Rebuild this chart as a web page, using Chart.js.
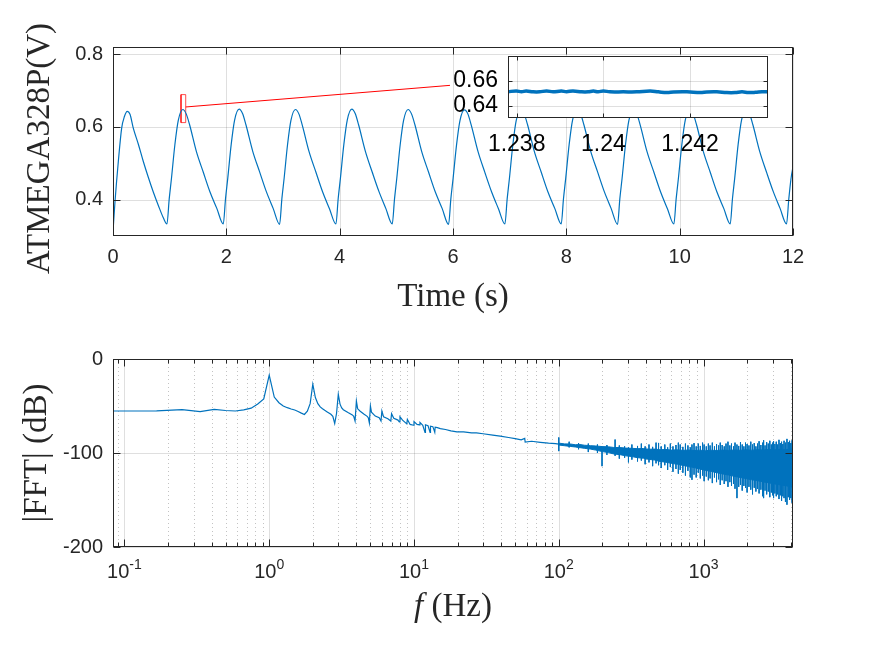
<!DOCTYPE html>
<html>
<head>
<meta charset="utf-8">
<script src="https://cdn.jsdelivr.net/npm/chart.js@4.4.1/dist/chart.umd.min.js"></script>
<style>
  html, body { margin: 0; padding: 0; background: #fff; }
  #wrap { position: relative; width: 875px; height: 657px; overflow: hidden; }
  canvas { position: absolute; }
</style>
</head>
<body>
<div id="wrap">
  <canvas id="top" width="875" height="330" style="left:0;top:0"></canvas>
  <canvas id="inset" width="340" height="130" style="left:440px;top:32px"></canvas>
  <canvas id="fft" width="875" height="327" style="left:0;top:330px"></canvas>
</div>
<script>
const BLUE = '#0072BD'
const INK = '#262626'

// top panel: measured pin voltage
const timeS = [
  0, 0.035, 0.094, 0.153, 0.200, 0.252, 0.300, 0.358, 0.450, 0.535, 0.620, 0.711, 0.800, 0.888,
  0.952, 0.992, 1.032, 1.092, 1.152, 1.232, 1.292, 1.352, 1.472, 1.592, 1.712, 1.832,
  1.946, 1.986, 2.026, 2.086, 2.146, 2.226, 2.286, 2.346, 2.466, 2.586, 2.706, 2.826,
  2.940, 2.980, 3.020, 3.080, 3.140, 3.220, 3.280, 3.340, 3.460, 3.580, 3.700, 3.820,
  3.934, 3.974, 4.014, 4.074, 4.134, 4.214, 4.274, 4.334, 4.454, 4.574, 4.694, 4.814,
  4.928, 4.968, 5.008, 5.068, 5.128, 5.208, 5.268, 5.328, 5.448, 5.568, 5.688, 5.808,
  5.922, 5.962, 6.002, 6.062, 6.122, 6.202, 6.262, 6.322, 6.442, 6.562, 6.682, 6.802,
  6.916, 6.956, 6.996, 7.056, 7.116, 7.196, 7.256, 7.316, 7.436, 7.556, 7.676, 7.796,
  7.910, 7.950, 7.990, 8.050, 8.110, 8.190, 8.250, 8.310, 8.430, 8.550, 8.670, 8.790,
  8.904, 8.944, 8.984, 9.044, 9.104, 9.184, 9.244, 9.304, 9.424, 9.544, 9.664, 9.784,
  9.898, 9.938, 9.978, 10.038, 10.098, 10.178, 10.238, 10.298, 10.418, 10.538, 10.658, 10.778,
  10.892, 10.932, 10.972, 11.032, 11.092, 11.172, 11.232, 11.292, 11.412, 11.532, 11.652, 11.772,
  11.886, 11.926, 11.966, 12.000
]
const voltV = [
  0.312, 0.394, 0.505, 0.597, 0.628, 0.643, 0.635, 0.597, 0.551, 0.505, 0.463, 0.421, 0.384, 0.350,
  0.333, 0.402, 0.459, 0.551, 0.618, 0.648, 0.636, 0.606, 0.532, 0.476, 0.421, 0.376,
  0.333, 0.403, 0.460, 0.552, 0.619, 0.649, 0.637, 0.606, 0.533, 0.477, 0.422, 0.376,
  0.332, 0.402, 0.459, 0.551, 0.618, 0.648, 0.636, 0.605, 0.532, 0.476, 0.421, 0.375,
  0.333, 0.403, 0.460, 0.552, 0.619, 0.649, 0.637, 0.606, 0.533, 0.476, 0.422, 0.376,
  0.333, 0.402, 0.459, 0.551, 0.618, 0.648, 0.636, 0.606, 0.532, 0.476, 0.421, 0.376,
  0.332, 0.402, 0.459, 0.550, 0.617, 0.647, 0.636, 0.605, 0.532, 0.475, 0.421, 0.375,
  0.333, 0.402, 0.459, 0.551, 0.618, 0.648, 0.636, 0.606, 0.532, 0.476, 0.421, 0.376,
  0.333, 0.403, 0.460, 0.552, 0.619, 0.649, 0.637, 0.606, 0.533, 0.477, 0.422, 0.376,
  0.332, 0.402, 0.459, 0.551, 0.618, 0.648, 0.636, 0.605, 0.532, 0.476, 0.421, 0.375,
  0.333, 0.402, 0.459, 0.551, 0.618, 0.648, 0.636, 0.606, 0.532, 0.476, 0.421, 0.376,
  0.333, 0.403, 0.460, 0.552, 0.619, 0.649, 0.637, 0.606, 0.533, 0.476, 0.422, 0.376,
  0.333, 0.402, 0.459, 0.490
]
const timeTicks = [0, 2, 4, 6, 8, 10, 12]
const timeLabels = ['0', '2', '4', '6', '8', '10', '12']
const voltTicks = [0.4, 0.6, 0.8]
const voltLabels = ['0.4', '0.6', '0.8']

// zoom marker and leader line
const zoomBoxT = [1.200, 1.283, 1.283, 1.200, 1.200]
const zoomBoxV = [0.612, 0.612, 0.689, 0.689, 0.612]
const leaderT = [1.283, 5.947]
const leaderV = [0.655, 0.7145]

// inset: close-up near the second peak
const insetT = [1.2378, 1.23799, 1.23811, 1.23822, 1.23838, 1.23853, 1.23869, 1.23884, 1.23903, 1.23915,
  1.2393, 1.2395, 1.23965, 1.23977, 1.23988, 1.24, 1.24015, 1.24046, 1.24077, 1.24108, 1.24127, 1.24147,
  1.24162, 1.24193, 1.24224, 1.24239, 1.24262, 1.24285, 1.24304, 1.2432, 1.24335, 1.24351, 1.24366, 1.2438]
const insetV = [0.6512, 0.6518, 0.6512, 0.6517, 0.6511, 0.6511, 0.6518, 0.6511, 0.6518, 0.6512,
  0.6518, 0.6511, 0.6511, 0.6517, 0.6511, 0.6518, 0.6511, 0.6511, 0.6511, 0.6518, 0.6511, 0.6505,
  0.6510, 0.6511, 0.6505, 0.6510, 0.6511, 0.6505, 0.6505, 0.6511, 0.6505, 0.6507, 0.6512, 0.6512]
const insetTimeTicks = [1.238, 1.24, 1.242]
const insetTimeLabels = ['1.238', '1.24', '1.242']
const insetVoltTicks = [0.64, 0.66]
const insetVoltLabels = ['0.64', '0.66']

// bottom panel: spectrum, low part as a single trace
const fftHz = [0.0833, 0.1667, 0.25, 0.3333, 0.4167, 0.5, 0.5833, 0.6667, 0.75, 0.8333, 0.9167,
  1.0, 1.0833, 1.1667, 1.25, 1.3333, 1.4167, 1.5, 1.5833, 1.6667, 1.75, 1.8333, 1.9167,
  2.0, 2.0833, 2.1667, 2.25, 2.3333, 2.4167, 2.5, 2.5833, 2.6667, 2.75, 2.8333, 2.9167,
  3.0, 3.0833, 3.1667, 3.25, 3.5, 3.75, 3.8333, 3.9167,
  4.0, 4.0833, 4.25, 4.5, 4.75, 4.8333, 4.9167,
  5.0, 5.0833, 5.4, 5.75, 5.9167, 6.0, 6.1667, 6.6, 6.9167, 7.0, 7.25, 7.75, 7.9167,
  8.0, 8.3333, 8.9167, 9.0, 9.4, 9.9167, 10.0, 10.5, 10.9167, 11.0, 11.5, 11.9167,
  12.0, 12.5, 12.9167, 13.0, 13.5, 13.9167, 14.0, 14.5, 15.2, 16.5, 18, 19.8, 22, 25, 27,
  30, 35, 39.4, 45, 50, 55, 58.2, 58.6, 65, 74.5, 85, 95, 100]
const fftDb = [-55.3, -55.2, -53.8, -56.0, -53.6, -54.8, -55.3, -54.2, -52.3, -47.8, -42.5,
  -17.1, -40.5, -46.5, -50.0, -51.8, -53.2, -54.2, -55.8, -57.6, -59.0, -55.5, -47.5,
  -26.8, -41.0, -47.5, -51.0, -53.0, -54.6, -56.0, -57.4, -58.8, -61.0, -68.6, -58.0,
  -37.5, -48.0, -52.0, -54.0, -57.0, -59.5, -61.0, -66.0,
  -44.6, -53.0, -55.5, -58.5, -61.0, -62.5, -68.0,
  -50.0, -56.5, -60.7, -62.5, -66.0, -55.3, -61.5, -63.6, -66.0, -58.2, -63.0, -65.0, -67.0,
  -61.4, -65.0, -69.0, -64.3, -69.6, -70.5, -66.5, -69.5, -70.0, -67.5, -70.5, -78.0,
  -70.0, -71.0, -78.0, -71.5, -72.0, -78.0, -72.5, -73.0, -74.0, -75.0, -76.5, -77.5, -77.5, -78.5, -78.6,
  -79.5, -81.0, -82.1, -83.5, -84.8, -86.0, -84.5, -88.5, -87.5, -88.6, -89.5, -90.0, -90.5]

// high part: solid body of the noise (upper / lower edge)
const bandHz = [100, 110, 120, 130, 140, 150, 165, 180, 200, 220, 240, 265, 290, 320, 350, 385, 420, 460,
  500, 550, 600, 660, 720, 790, 860, 940, 1030, 1130, 1240, 1360, 1490, 1630, 1790, 1960, 2150, 2360,
  2590, 2840, 3110, 3410, 3740, 4150]
const bandHi = [-89.5, -90.3, -90.4, -91.2, -91, -91.7, -92.2, -92.5, -93.2, -93.4, -94.1, -94.2, -94.8,
  -95, -95.4, -95.2, -96, -95.8, -96.5, -96.3, -96.9, -96.6, -97.2, -96.8, -97.4, -97, -97.5, -97.1,
  -97.3, -96.9, -97.2, -96.8, -97.1, -96.6, -97, -96.5, -96.8, -96.2, -96.6, -96, -96.3, -95.5]
const bandLo = [-91.5, -92.3, -93, -93.6, -94.3, -95, -95.8, -96.9, -98.5, -99.6, -101, -101.8, -103,
  -103.8, -105, -105.6, -106.8, -107.5, -109, -109.8, -111, -112, -113.2, -114.4, -115.5, -117, -118.5,
  -119.6, -121, -122.3, -123.5, -124.8, -126, -127.2, -128.5, -129.5, -130.8, -131.8, -133, -134,
  -135, -136.5]

// single bins sticking out of the body
const spikeHz = [100, 118, 137, 160, 185, 199, 215, 245, 262, 285, 303, 320, 350, 372, 395, 420, 445,
  470, 489, 510, 540, 565, 590, 615, 645, 670, 690, 720, 750, 780, 810, 832, 860, 890, 920, 950, 985,
  1010, 1045, 1080, 1110, 1150, 1190, 1230, 1270, 1305, 1345, 1390, 1430, 1475, 1520, 1560, 1610,
  1650, 1702, 1750, 1800, 1850, 1900, 1950, 2000, 2060, 2120, 2180, 2240, 2300, 2360, 2420, 2490,
  2560, 2600, 2660, 2730, 2800, 2870, 2940, 3000, 3047, 3110, 3180, 3250, 3320, 3390, 3460, 3530,
  3600, 3680, 3770, 3850, 3930, 4010, 4090, 4140]
const spikeHi = [-83.5, -88, -89.5, -90, -91, -93, -91.5, -85.7, -92, -93, -94, -91, -92.5, -90, -93,
  -91, -93.5, -89, -89.3, -93, -91, -94, -90, -93, -91.5, -89, -91, -93.5, -90, -92, -94, -91, -89.5,
  -93, -90, -92.5, -89, -91, -93, -90, -92, -89, -93, -90.5, -92, -89, -91.5, -93, -90, -88, -92,
  -90, -93, -89, -91, -92.5, -88.5, -91, -93, -89, -90.5, -92, -88, -91, -89.5, -93, -90, -87.5,
  -91.5, -89, -86.5, -92, -88.5, -90, -87, -91, -89, -87.5, -90.5, -88, -91, -86, -89.5, -88,
  -90.5, -87, -89, -85, -88.5, -87, -89.5, -86.5, -88]
const spikeLo = [-98, -94, -96, -99, -100, -114, -102, -103, -106, -105, -110, -107, -109, -108, -112,
  -110, -114, -111, -113, -116, -113, -118, -115, -120, -117, -122, -118, -121, -124, -119, -126,
  -128.5, -123, -126, -121, -127, -124, -130, -125, -129, -127, -132, -126, -131, -128, -134, -129,
  -133, -130, -136, -131, -135, -133, -138, -148, -136, -134, -140, -135, -137, -142, -136, -139,
  -144, -137, -141, -138, -143, -139, -146, -148, -140, -144, -141, -147, -142, -145, -148, -143,
  -146, -144, -149, -145, -151, -146, -148, -152, -155, -147, -150, -148, -153, -146]

const dbTicks = [-200, -100, 0]
const dbLabels = ['-200', '-100', '0']
const hzDecades = [0.1, 1, 10, 100, 1000]
const hzExponents = ['-1', '0', '1', '2', '3']
const HZ_MIN = 1 / 12
const HZ_MAX = 4150

const hzMinor = []
;[0.01, 0.1, 1, 10, 100, 1000].forEach(d => {
  for (let m = 2; m <= 9; m++) {
    const v = m * d
    if (v > HZ_MIN && v < HZ_MAX) hzMinor.push(v)
  }
})

const xy = (xs, ys) => xs.map((x, i) => ({x, y: ys[i]}))
// vertical strokes, broken apart by null points
const strokes = (xs, hi, lo) => xs.flatMap((x, i) => [{x, y: hi[i]}, {x, y: lo[i]}, {x, y: null}])

const drawParts = (ctx, parts, cx, cy, rotate) => {
  ctx.save()
  ctx.translate(cx, cy)
  if (rotate) ctx.rotate(-Math.PI / 2)
  let total = 0
  parts.forEach(p => { ctx.font = p.font; total += ctx.measureText(p.t).width })
  let x = -total / 2
  ctx.textBaseline = 'middle'
  ctx.textAlign = 'left'
  ctx.fillStyle = INK
  parts.forEach(p => { ctx.font = p.font; ctx.fillText(p.t, x, 0); x += ctx.measureText(p.t).width })
  ctx.restore()
}

// MATLAB-like box: grid, border, inward ticks, titles
const boxPlugin = {
  id: 'mbox',
  beforeDraw (chart, args, o) {
    if (!o.fillArea) return
    const a = chart.chartArea
    chart.ctx.fillStyle = '#fff'
    chart.ctx.fillRect(a.left, a.top, a.right - a.left, a.bottom - a.top)
  },
  beforeDatasetsDraw (chart, args, o) {
    const {ctx, chartArea: a, scales: {x, y}} = chart
    const vline = (v) => {
      const p = Math.round(x.getPixelForValue(v)) + 0.5
      ctx.beginPath(); ctx.moveTo(p, a.top); ctx.lineTo(p, a.bottom); ctx.stroke()
    }
    const hline = (v) => {
      const p = Math.round(y.getPixelForValue(v)) + 0.5
      ctx.beginPath(); ctx.moveTo(a.left, p); ctx.lineTo(a.right, p); ctx.stroke()
    }
    ctx.save()
    ctx.lineWidth = 1
    ctx.strokeStyle = 'rgba(38,38,38,0.28)'
    ctx.setLineDash([1, 3])
    ;(o.xMinor || []).forEach(vline)
    ctx.setLineDash([])
    ctx.strokeStyle = 'rgba(38,38,38,0.15)'
    ;(o.xMajor || []).forEach(vline)
    ;(o.yMajor || []).forEach(hline)
    ctx.restore()
  },
  afterDatasetsDraw (chart, args, o) {
    const {ctx, chartArea: a, scales: {x, y}} = chart
    const L = Math.round(a.left) + 0.5, R = Math.round(a.right) - 0.5
    const T = Math.round(a.top) + 0.5, B = Math.round(a.bottom) - 0.5
    ctx.save()
    ctx.strokeStyle = INK
    ctx.lineWidth = 1
    ctx.strokeRect(L, T, R - L, B - T)
    const xt = (v, len) => {
      const p = Math.round(x.getPixelForValue(v)) + 0.5
      ctx.beginPath()
      ctx.moveTo(p, B); ctx.lineTo(p, B - len)
      ctx.moveTo(p, T); ctx.lineTo(p, T + len)
      ctx.stroke()
    }
    const yt = (v, len) => {
      const p = Math.round(y.getPixelForValue(v)) + 0.5
      ctx.beginPath()
      ctx.moveTo(L, p); ctx.lineTo(L + len, p)
      ctx.moveTo(R, p); ctx.lineTo(R - len, p)
      ctx.stroke()
    }
    ;(o.xMajor || []).forEach(v => xt(v, o.tick))
    ;(o.xMinor || []).forEach(v => xt(v, o.minorTick))
    ;(o.yMajor || []).forEach(v => yt(v, o.tick))
    ctx.restore()
  },
  afterDraw (chart, args, o) {
    const {ctx, chartArea: a, scales: {x}} = chart
    if (o.xTitle) drawParts(ctx, o.xTitle, (a.left + a.right) / 2, a.bottom + o.xTitleGap, false)
    if (o.yTitle) drawParts(ctx, o.yTitle, o.yTitleX, (a.top + a.bottom) / 2 + (o.yTitleShift || 0), true)
    if (o.logLabels) {
      const baseFont = '20px "Liberation Sans"', expFont = '14px "Liberation Sans"'
      ctx.save()
      ctx.fillStyle = INK
      ctx.textBaseline = 'alphabetic'
      ctx.textAlign = 'left'
      hzDecades.forEach((d, i) => {
        ctx.font = baseFont
        const wb = ctx.measureText('10').width
        ctx.font = expFont
        const we = ctx.measureText(hzExponents[i]).width
        const px = x.getPixelForValue(d)
        const x0 = px - (wb + we) / 2
        const base = a.bottom + o.logLabels.baseline
        ctx.font = baseFont
        ctx.fillText('10', x0, base)
        ctx.font = expFont
        ctx.fillText(hzExponents[i], x0 + wb, base - 9)
      })
      ctx.restore()
    }
  }
}

Chart.defaults.font.family = '"Liberation Sans", Arial, sans-serif'
Chart.defaults.color = INK

const serif = '33px "Liberation Serif", serif'
const serifItalic = 'italic 33px "Liberation Serif", serif'
const tickFont = {size: 20}

const fixedTicks = (vals) => (s) => { s.ticks = vals.map(v => ({value: v})) }
const noGrid = {display: false, drawTicks: false}

new Chart(document.getElementById('top'), {
  type: 'line',
  data: {
    datasets: [
      {data: xy(timeS, voltV), borderColor: BLUE, borderWidth: 1.2, pointRadius: 0, cubicInterpolationMode: 'monotone', fill: false},
      {data: xy(zoomBoxT, zoomBoxV), borderColor: 'rgba(255,0,0,0.7)', borderWidth: 1, pointRadius: 0, fill: false},
      {data: xy(leaderT, leaderV), borderColor: '#ff0000', borderWidth: 1, pointRadius: 0, fill: false}
    ]
  },
  options: {
    responsive: false,
    animation: false,
    events: [],
    layout: {padding: {left: 0, right: 82, top: 47, bottom: 0}},
    plugins: {
      legend: {display: false},
      tooltip: {enabled: false},
      mbox: {
        xMajor: timeTicks, yMajor: voltTicks, tick: 7, minorTick: 4,
        xTitle: [{t: 'Time (s)', font: serif}], xTitleGap: 61,
        yTitle: [{t: 'ATMEGA328P(V)', font: serif}], yTitleX: 40, yTitleShift: 7
      }
    },
    scales: {
      x: {
        type: 'linear', min: 0, max: 12,
        grid: noGrid, border: {display: false},
        afterBuildTicks: fixedTicks(timeTicks),
        afterFit: s => { s.height = 94 },
        ticks: {padding: 9, font: tickFont, maxRotation: 0, autoSkip: false, callback: (v, i) => timeLabels[i]}
      },
      y: {
        min: 0.3, max: 0.82,
        grid: noGrid, border: {display: false},
        afterBuildTicks: fixedTicks(voltTicks),
        afterFit: s => { s.width = 113 },
        ticks: {padding: 10, font: tickFont, callback: (v, i) => voltLabels[i]}
      }
    }
  },
  plugins: [boxPlugin]
})

new Chart(document.getElementById('inset'), {
  type: 'line',
  data: {
    datasets: [
      {data: xy(insetT, insetV), borderColor: BLUE, borderWidth: 3.5, pointRadius: 0, tension: 0.4, fill: false}
    ]
  },
  options: {
    responsive: false,
    animation: false,
    events: [],
    layout: {padding: {left: 0, right: 12, top: 24, bottom: 0}},
    plugins: {
      legend: {display: false},
      tooltip: {enabled: false},
      mbox: {fillArea: true, xMajor: insetTimeTicks, yMajor: insetVoltTicks, tick: 4, minorTick: 2}
    },
    scales: {
      x: {
        type: 'linear', min: 1.2378, max: 1.2438,
        grid: noGrid, border: {display: false},
        afterBuildTicks: fixedTicks(insetTimeTicks),
        afterFit: s => { s.height = 44 },
        ticks: {padding: 13, font: {size: 23}, color: '#000', maxRotation: 0, autoSkip: false, callback: (v, i) => insetTimeLabels[i]}
      },
      y: {
        min: 0.63, max: 0.68,
        grid: noGrid, border: {display: false},
        afterBuildTicks: fixedTicks(insetVoltTicks),
        afterFit: s => { s.width = 68 },
        ticks: {padding: 10, font: {size: 23}, color: '#000', callback: (v, i) => insetVoltLabels[i]}
      }
    }
  },
  plugins: [boxPlugin]
})

new Chart(document.getElementById('fft'), {
  type: 'line',
  data: {
    datasets: [
      {data: xy(fftHz, fftDb), borderColor: BLUE, borderWidth: 1.2, pointRadius: 0, fill: false},
      {data: xy(bandHz, bandHi), borderColor: BLUE, borderWidth: 1, pointRadius: 0, fill: false},
      {data: xy(bandHz, bandLo), borderColor: BLUE, borderWidth: 1, pointRadius: 0, fill: '-1', backgroundColor: BLUE},
      {data: strokes(spikeHz, spikeHi, spikeLo), borderColor: BLUE, borderWidth: 1, pointRadius: 0, fill: false, spanGaps: false}
    ]
  },
  options: {
    responsive: false,
    animation: false,
    events: [],
    layout: {padding: {left: 0, right: 82, top: 29, bottom: 0}},
    plugins: {
      legend: {display: false},
      tooltip: {enabled: false},
      mbox: {
        xMajor: hzDecades, xMinor: hzMinor, yMajor: dbTicks, tick: 7, minorTick: 4,
        xTitle: [{t: 'f', font: serifItalic}, {t: ' (Hz)', font: serif}], xTitleGap: 60,
        yTitle: [{t: '|FFT| (dB)', font: serif}], yTitleX: 37,
        logLabels: {baseline: 31}
      }
    },
    scales: {
      x: {
        type: 'logarithmic', min: HZ_MIN, max: HZ_MAX,
        grid: noGrid, border: {display: false},
        afterFit: s => { s.height = 110 },
        ticks: {display: false}
      },
      y: {
        min: -200, max: 0,
        grid: noGrid, border: {display: false},
        afterBuildTicks: fixedTicks(dbTicks),
        afterFit: s => { s.width = 113 },
        ticks: {padding: 10, font: tickFont, callback: (v, i) => dbLabels[i]}
      }
    }
  },
  plugins: [boxPlugin]
})
</script>
</body>
</html>
